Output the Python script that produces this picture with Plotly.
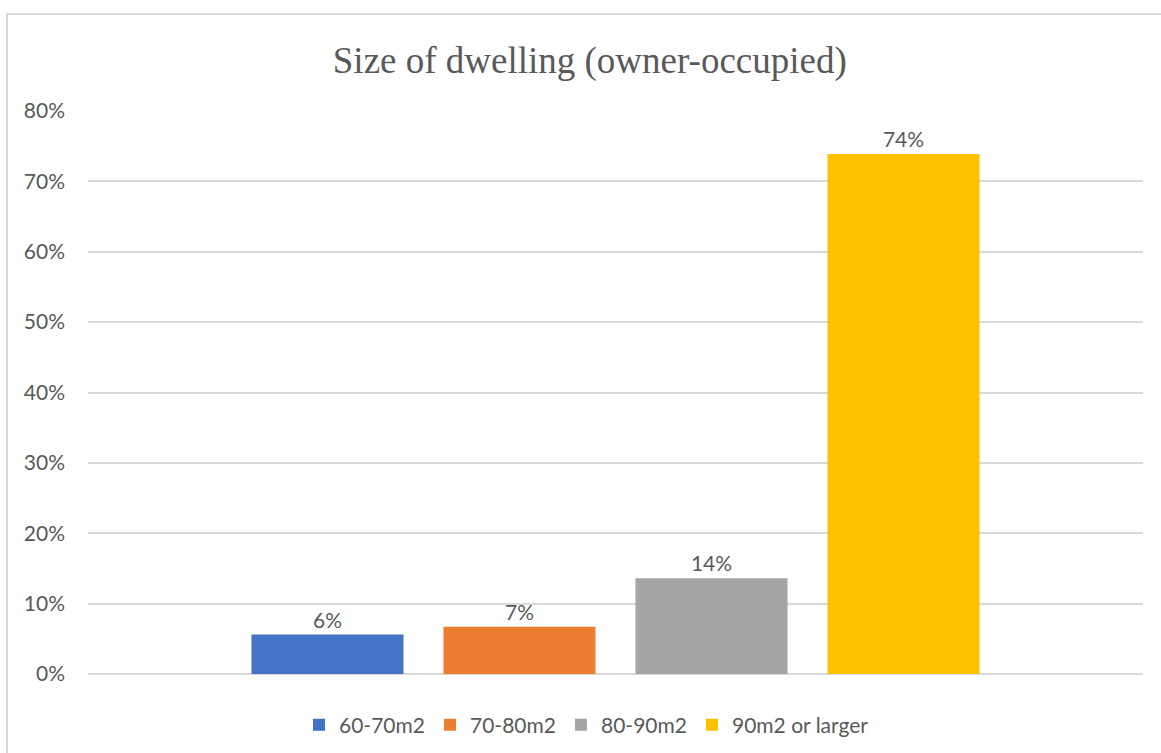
import plotly.graph_objects as go

# Share of owner-occupied dwellings by floor area
categories = ["60-70m2", "70-80m2", "80-90m2", "90m2 or larger"]
shares = [0.056, 0.067, 0.136, 0.739]
colors = ["#4472C4", "#ED7D31", "#A5A5A5", "#FFC000"]
y_ticks = [0, 0.1, 0.2, 0.3, 0.4, 0.5, 0.6, 0.7, 0.8]

label_font = dict(family="Lato", size=21, color="#595959")

fig = go.Figure()
for name, val, col in zip(categories, shares, colors):
    fig.add_trace(go.Bar(
        x=[""], y=[val], name=name,
        marker=dict(color=col, line=dict(width=0)),
        texttemplate="%{y:.0%}", textposition="outside",
        textfont=label_font, cliponaxis=False,
        hoverinfo="name+y",
    ))

fig.update_layout(
    width=1161, height=753,
    margin=dict(l=88, r=18, t=111, b=79, autoexpand=False),
    paper_bgcolor="white", plot_bgcolor="white",
    barmode="group", bargap=0.272, bargroupgap=0.208,
    title=dict(
        text="Size of dwelling (owner-occupied)",
        font=dict(family="Liberation Serif", size=37, color="#595959"),
        x=0.508, xanchor="center", y=1 - 60 / 753, yanchor="middle",
        yref="container",
    ),
    yaxis=dict(
        range=[0, 0.8], tickvals=y_ticks, tickformat=".0%",
        showgrid=True, gridcolor="#D9D9D9", gridwidth=1.5,
        zeroline=True, zerolinecolor="#D9D9D9", zerolinewidth=1.5,
        showline=False, ticks="", ticklabelstandoff=22,
        tickfont=label_font,
    ),
    xaxis=dict(showticklabels=False, showgrid=False, zeroline=False,
               showline=False, ticks=""),
    legend=dict(
        orientation="h", x=(299 - 88) / 1055, xanchor="left",
        y=(674 - 725) / 563, yanchor="middle",
        font=label_font, itemwidth=30, traceorder="normal",
    ),
    showlegend=True,
    shapes=[dict(
        type="rect", xref="paper", yref="paper",
        x0=(7 - 88) / 1055, x1=1.2, y0=-0.3, y1=(674 - 14) / 563,
        line=dict(color="#D9D9D9", width=2), fillcolor="rgba(0,0,0,0)",
        layer="below",
    )],
)

fig.write_html("out.html")
